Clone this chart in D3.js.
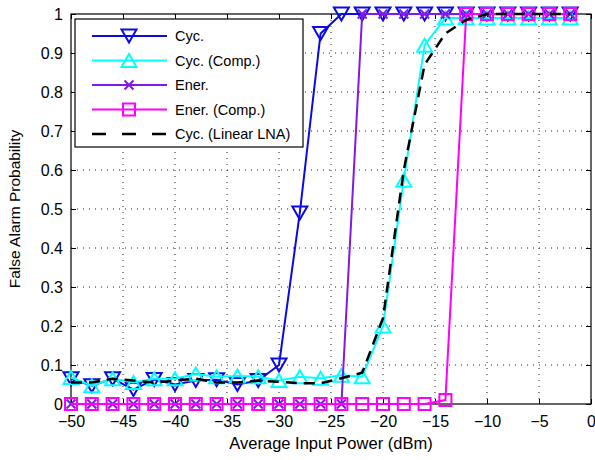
<!DOCTYPE html>
<html><head><meta charset="utf-8">
<script src="https://cdn.jsdelivr.net/npm/d3@7"></script>
<style>
html,body{margin:0;padding:0;background:#fff;}
text{font-family:"Liberation Sans",Arial,Helvetica,sans-serif;fill:#000;}
</style></head>
<body><svg id="c" width="595" height="460"></svg>
<script>
const xVals = [-50,-48,-46,-44,-42,-40,-38,-36,-34,-32,-30,-28,-26,-24,-22,-20,-18,-16,-14,-12,-10,-8,-6,-4,-2];
const cyc = [0.065,0.047,0.065,0.037,0.063,0.05,0.06,0.062,0.05,0.06,0.10,0.49,0.95,1,1,1,1,1,1,1,1,1,1,1,1];
const cycComp = [0.068,0.047,0.065,0.055,0.065,0.065,0.077,0.07,0.072,0.07,0.06,0.07,0.066,0.074,0.07,0.2,0.574,0.92,0.99,0.99,0.99,0.99,0.99,0.99,0.99];
const ener = [0,0,0,0,0,0,0,0,0,0,0,0,0,0,1,1,1,1,1,1,1,1,1,1,1];
const enerComp = [0,0,0,0,0,0,0,0,0,0,0,0,0,0,0,0,0,0,0.01,1,1,1,1,1,1];
const cycLin = [0.055,0.055,0.065,0.06,0.055,0.06,0.065,0.055,0.055,0.06,0.057,0.053,0.053,0.066,0.08,0.22,0.6,0.87,0.95,0.985,1,1,1,1,1];
const xTicks = [-50,-45,-40,-35,-30,-25,-20,-15,-10,-5,0];
const yTicks = [0,0.1,0.2,0.3,0.4,0.5,0.6,0.7,0.8,0.9,1];
const seriesNames = ["Cyc.","Cyc. (Comp.)","Ener.","Ener. (Comp.)","Cyc. (Linear LNA)"];

const series = [
  {name:seriesNames[0], vals:cyc, color:"#0a0ae6", marker:"down"},
  {name:seriesNames[1], vals:cycComp, color:"#00ffff", marker:"up"},
  {name:seriesNames[2], vals:ener, color:"#7f1ae8", marker:"x"},
  {name:seriesNames[3], vals:enerComp, color:"#ff00ff", marker:"square"},
  {name:seriesNames[4], vals:cycLin, color:"#000", marker:null, dash:"11,7"}
];

const L=71, R=591, T=14, B=404;
const svg = d3.select("#c");
const x = d3.scaleLinear().domain([-50,0]).range([L,R]);
const y = d3.scaleLinear().domain([0,1]).range([B,T]);

// grid
const g = svg.append("g");
g.selectAll(".vg").data(xTicks.slice(1,-1)).enter().append("line")
  .attr("x1",d=>x(d)).attr("x2",d=>x(d)).attr("y1",T).attr("y2",B)
  .attr("stroke","#222").attr("stroke-width",1).attr("stroke-dasharray","1,5");
g.selectAll(".hg").data(yTicks.slice(1,-1)).enter().append("line")
  .attr("y1",d=>y(d)).attr("y2",d=>y(d)).attr("x1",L).attr("x2",R)
  .attr("stroke","#222").attr("stroke-width",1).attr("stroke-dasharray","1,5");

// axes
const fmtX = d=> d<0 ? "\u2212"+Math.abs(d) : String(d);
const fmtY = d=> d===0?"0":d===1?"1":String(+d.toFixed(1));
const axB = svg.append("g").attr("transform",`translate(0,${B})`)
  .call(d3.axisBottom(x).tickValues(xTicks).tickSize(-5).tickPadding(12).tickFormat(fmtX));
const axT = svg.append("g").attr("transform",`translate(0,${T})`)
  .call(d3.axisTop(x).tickValues(xTicks).tickSize(-5).tickFormat(""));
const axL = svg.append("g").attr("transform",`translate(${L},0)`)
  .call(d3.axisLeft(y).tickValues(yTicks).tickSize(-5).tickPadding(8).tickFormat(fmtY));
const axR = svg.append("g").attr("transform",`translate(${R},0)`)
  .call(d3.axisRight(y).tickValues(yTicks).tickSize(-5).tickFormat(""));
[axB,axT,axL,axR].forEach(a=>{
  a.select(".domain").remove();
  a.selectAll("line").attr("stroke","#000").attr("stroke-width",1);
  a.selectAll("text").attr("font-size",16).attr("font-family","Liberation Sans, Arial, sans-serif").attr("fill","#000");
});
svg.append("rect").attr("x",L).attr("y",T).attr("width",R-L).attr("height",B-T)
  .attr("fill","none").attr("stroke","#000").attr("stroke-width",1.2);

// markers
function markerPath(type){
  if(type==="down") return "M0,6.5L-7.5,-6.5L7.5,-6.5Z";
  if(type==="up") return "M0,-6.5L7.5,6.5L-7.5,6.5Z";
  if(type==="square") return "M-6,-6H6V6H-6Z";
  if(type==="x") return "M-4.5,-4.5L4.5,4.5M-4.5,4.5L4.5,-4.5";
  return "";
}
const line = d3.line().x(d=>x(d[0])).y(d=>y(d[1]));
const plot = svg.append("g");
series.forEach(s=>{
  const pts = xVals.map((v,i)=>[v,s.vals[i]]);
  plot.append("path").attr("d",line(pts)).attr("fill","none")
    .attr("stroke",s.color).attr("stroke-width",s.dash?2.5:2)
    .attr("stroke-dasharray",s.dash||null);
  if(s.marker){
    plot.selectAll(null).data(pts).enter().append("path")
      .attr("transform",d=>`translate(${x(d[0])},${y(d[1])})`)
      .attr("d",markerPath(s.marker)).attr("fill","none")
      .attr("stroke",s.color).attr("stroke-width",2);
  }
});

// legend
const lg = svg.append("g");
lg.append("rect").attr("x",75).attr("y",19).attr("width",228).attr("height",128)
  .attr("fill","#fff").attr("stroke","#000").attr("stroke-width",1.2);
series.forEach((s,i)=>{
  const yy = 36 + i*24.5;
  lg.append("line").attr("x1",92).attr("x2",167).attr("y1",yy).attr("y2",yy)
    .attr("stroke",s.color).attr("stroke-width",s.dash?2.5:2)
    .attr("stroke-dasharray",s.dash?"14,16":null);
  if(s.marker){
    lg.append("path").attr("transform",`translate(129,${yy})`).attr("d",markerPath(s.marker))
      .attr("fill","none").attr("stroke",s.color).attr("stroke-width",2);
  }
  lg.append("text").attr("x",175).attr("y",yy+5).attr("font-size",14.5).text(s.name);
});

// labels
svg.append("text").attr("x",(L+R)/2).attr("y",449).attr("text-anchor","middle")
  .attr("font-size",16.5).text("Average Input Power (dBm)");
svg.append("text").attr("transform",`translate(20,${(T+B)/2}) rotate(-90)`)
  .attr("text-anchor","middle").attr("font-size",15.5).text("False Alarm Probability");
</script></body></html>
